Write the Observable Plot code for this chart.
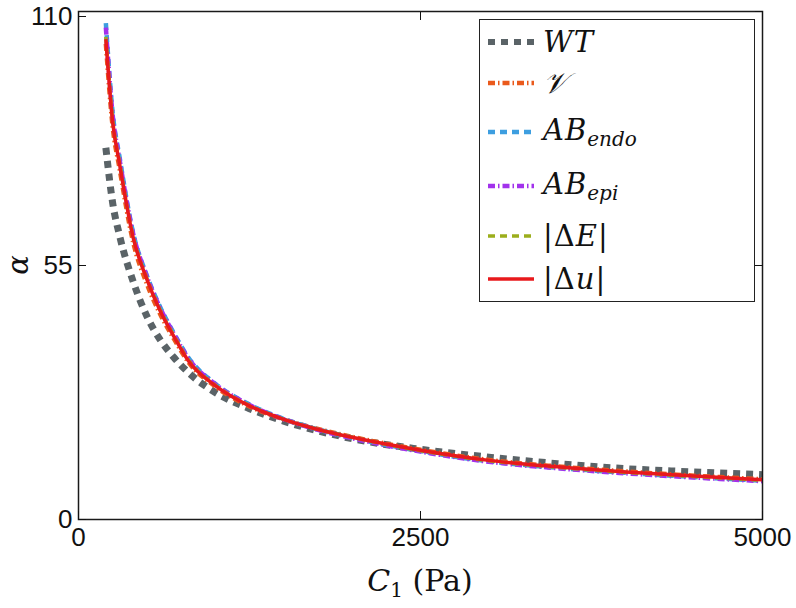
<!DOCTYPE html>
<html>
<head>
<meta charset="utf-8">
<script src="https://cdn.jsdelivr.net/npm/d3@7"></script>
<script src="https://cdn.jsdelivr.net/npm/@observablehq/plot@0.6"></script>
<style>
  html, body { margin: 0; padding: 0; background: #fff; }
  #wrap { position: relative; width: 796px; height: 608px; overflow: hidden; }
  .math { font-family: "DejaVu Serif", "Liberation Serif", serif; font-style: italic; color: #111; }
  #legend { position: absolute; left: 479px; top: 19px; width: 274px; height: 281px;
            border: 1.5px solid #222; background: #fff; }
  .row { position: absolute; left: 8px; height: 40px; display: flex; align-items: center; }
  .row svg { width: 48px; height: 12px; margin-right: 7px; }
  .lab { font-size: 29px; line-height: 1; white-space: nowrap; letter-spacing: 1px; }
  .lab sub { font-size: 20px; vertical-align: -6px; letter-spacing: 0; }
  .up { font-style: normal; }
  #xtitle { position: absolute; left: 0; width: 840px; top: 563px; text-align: center; font-size: 30px; }
  #ytitle { position: absolute; left: 18px; top: 265px; font-size: 29px; line-height: 1.2; white-space: nowrap; transform: translate(-50%, -50%) rotate(-90deg); }
</style>
</head>
<body>
<div id="wrap"></div>
<script>
// ---- data ----
const C1 = [200, 250, 300, 400, 500, 600, 700, 800, 1000, 1250, 1500, 1750, 2000, 2500, 3000, 3500, 4000, 4500, 5000];
const alphaWT     = [80.5, 68.5, 61.5, 51.5, 44.0, 38.8, 35.0, 31.9, 27.5, 24.0, 21.3, 19.2, 17.5, 15.2, 13.5, 12.1, 11.0, 10.3, 9.7];
const alphaV      = [103.0, 85.0, 76.0, 60.0, 51.0, 44.3, 39.0, 34.2, 28.8, 24.5, 21.7, 19.6, 17.9, 15.1, 12.9, 11.5, 10.4, 9.5, 8.7];
const alphaABendo = [107.5, 88.0, 78.5, 62.0, 52.8, 45.8, 40.2, 35.2, 29.4, 24.9, 21.8, 19.5, 17.7, 14.8, 12.6, 11.2, 10.1, 9.2, 8.4];
const alphaABepi  = [106.5, 87.5, 78.0, 61.8, 52.6, 45.6, 40.0, 35.0, 29.3, 24.8, 21.7, 19.4, 17.6, 14.7, 12.5, 11.1, 10.0, 9.1, 8.3];
const alphaDE     = [104.5, 86.5, 77.3, 61.2, 52.2, 45.2, 39.7, 34.7, 29.1, 24.7, 21.7, 19.5, 17.8, 14.9, 12.7, 11.3, 10.2, 9.3, 8.5];
const alphaDu     = [104.0, 86.0, 77.0, 61.0, 52.0, 45.0, 39.5, 34.5, 29.0, 24.6, 21.7, 19.5, 17.8, 15.0, 12.8, 11.4, 10.3, 9.4, 8.6];

const xTicks = [0, 2500, 5000];
const yTicks = [0, 55, 110];

const seriesNames = ["WT", "V", "ABendo", "ABepi", "dE", "du"];
const seriesValues = [alphaWT, alphaV, alphaABendo, alphaABepi, alphaDE, alphaDu];

// ---- styles ----
const styles = {
  WT:     {stroke: "#5a6367", strokeWidth: 7,   strokeDasharray: "7,6"},
  V:      {stroke: "#ea5a1c", strokeWidth: 4.5, strokeDasharray: "7,3,1.5,3"},
  ABendo: {stroke: "#3d9ee0", strokeWidth: 4.5, strokeDasharray: "7,5"},
  ABepi:  {stroke: "#a232ec", strokeWidth: 4.5, strokeDasharray: "7,3,1.5,3"},
  dE:     {stroke: "#9cae1c", strokeWidth: 3.5, strokeDasharray: "7,5"},
  du:     {stroke: "#e8191c", strokeWidth: 3.5, strokeDasharray: null}
};

const lineMarks = seriesNames.map((name, k) => {
  const data = C1.map((c, i) => ({C: c, a: seriesValues[k][i]}));
  return Plot.line(data, {x: "C", y: "a", curve: "monotone-x", strokeLinecap: "butt", ...styles[name]});
});

const fmt = d3.format("d");
const blank = () => "";
const yMax = yTicks[yTicks.length - 1];

const plot = Plot.plot({
  width: 796,
  height: 608,
  marginLeft: 78,
  marginRight: 34,
  marginTop: 11,
  marginBottom: 89,
  x: {domain: [0, 5000]},
  y: {domain: [0, 110]},
  style: {fontFamily: "'Liberation Sans', Arial, sans-serif", fontSize: "26px", background: "white", color: "#111", overflow: "visible"},
  marks: [
    ...lineMarks,
    Plot.frame({stroke: "#1a1a1a", strokeWidth: 1.5}),
    Plot.axisX(xTicks, {anchor: "bottom", tickSize: -8, tickPadding: 16, tickFormat: fmt, label: null, fontSize: 26}),
    Plot.axisX(xTicks, {anchor: "top", tickSize: -8, tickFormat: blank, label: null}),
    Plot.axisY(yTicks.filter(d => d !== yMax), {anchor: "left", tickSize: -8, tickPadding: 14, tickFormat: fmt, label: null, fontSize: 26}),
    Plot.axisY([yMax], {anchor: "left", tickSize: -8, tickPadding: 14, tickFormat: fmt, label: null, fontSize: 26, dy: 5}),
    Plot.axisY(yTicks, {anchor: "right", tickSize: -8, tickFormat: blank, label: null})
  ]
});

const wrap = document.getElementById("wrap");
wrap.appendChild(plot);

// ---- legend ----
const legendLabels = {
  WT: '<span class="lab math">WT</span>',
  V: '<span class="lab math">𝒱</span>',
  ABendo: '<span class="lab math">AB<sub>endo</sub></span>',
  ABepi: '<span class="lab math">AB<sub>epi</sub></span>',
  dE: '<span class="lab math"><span class="up">|Δ</span>E<span class="up">|</span></span>',
  du: '<span class="lab math"><span class="up">|Δ</span>u<span class="up">|</span></span>'
};
const rowTops = [2, 43, 92, 146, 196, 239];
const legend = document.createElement("div");
legend.id = "legend";
seriesNames.forEach((name, k) => {
  const s = styles[name];
  const row = document.createElement("div");
  row.className = "row";
  row.style.top = rowTops[k] + "px";
  row.innerHTML = `<svg viewBox="0 0 48 12"><line x1="0" y1="6" x2="46" y2="6" stroke="${s.stroke}" stroke-width="${Math.min(s.strokeWidth, 6)}" ${s.strokeDasharray ? `stroke-dasharray="${s.strokeDasharray}"` : ""}/></svg>${legendLabels[name]}`;
  legend.appendChild(row);
});
wrap.appendChild(legend);

// ---- axis titles ----
const xt = document.createElement("div");
xt.id = "xtitle";
xt.innerHTML = '<span class="math">C</span><span class="math up" style="font-size:20px;vertical-align:-6px">1</span><span class="math up">&nbsp;(Pa)</span>';
wrap.appendChild(xt);
const yt = document.createElement("div");
yt.id = "ytitle";
yt.className = "math";
yt.textContent = "α";
wrap.appendChild(yt);
</script>
</body>
</html>
